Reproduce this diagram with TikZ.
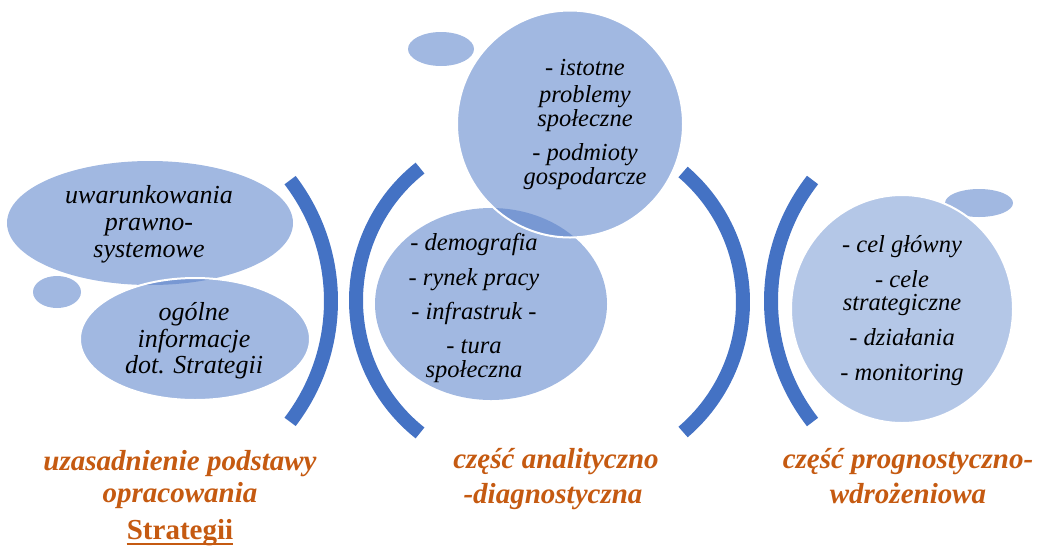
\documentclass[tikz,border=0pt]{standalone}
\usepackage{fontspec}
\setmainfont{Liberation Serif}
\usetikzlibrary{shapes.geometric}
\definecolor{blobfill}{HTML}{A1B8E1}
\definecolor{lensfill}{HTML}{7898D3}
\definecolor{lightfill}{HTML}{B4C7E7}
\definecolor{arcblue}{HTML}{4472C4}
\definecolor{labelorange}{HTML}{C55A11}
\tikzset{
  blob/.style={ellipse, fill=blobfill, inner sep=0pt, outer sep=0pt},
  blobline/.style={ellipse, draw=white, line width=2pt, inner sep=0pt, outer sep=0pt},
  bracket/.style={draw=arcblue, line width=14pt, line cap=butt},
  bodyL/.style={anchor=base, inner sep=0pt, font=\itshape\fontsize{26}{27}\selectfont},
  body/.style={anchor=base, inner sep=0pt, font=\itshape\fontsize{24.5}{26}\selectfont},
  caption/.style={anchor=base, inner sep=0pt, text=labelorange, font=\bfseries\itshape\fontsize{29}{31}\selectfont},
  captionup/.style={anchor=base, inner sep=0pt, text=labelorange, font=\bfseries\fontsize{29}{31}\selectfont},
}
\begin{document}
\begin{tikzpicture}[x=1pt,y=1pt]
\useasboundingbox (0,0) rectangle (1038,-547);

% ---------- left cluster ----------
\node[blob, minimum width=286pt, minimum height=124pt] (ellA) at (150,-223) {};
\node[blob, minimum width=48pt, minimum height=32pt] (dotL) at (57,-292) {};
\node[blob, minimum width=230pt, minimum height=122pt] (ellB) at (195,-339) {};
\begin{scope}
  \clip (150,-223) ellipse [x radius=143, y radius=62];
  \fill[lensfill] (195,-339) ellipse [x radius=115, y radius=61];
\end{scope}
\node[blobline, minimum width=230pt, minimum height=122pt] (ellBline) at (195,-339) {};

% ---------- middle cluster ----------
\node[blob, minimum width=66pt, minimum height=34pt] (dotT) at (441,-49) {};
\node[blob, minimum width=232pt, minimum height=192pt] (ellC) at (491,-304) {};
\node[blob, minimum width=226pt, minimum height=227pt] (ellD) at (570,-124) {};
\begin{scope}
  \clip (491,-304) ellipse [x radius=116, y radius=96];
  \fill[lensfill] (570,-124) ellipse [x radius=113, y radius=113.5];
\end{scope}
\node[blobline, minimum width=226pt, minimum height=227pt] (ellDline) at (570,-124) {};

% ---------- right cluster ----------
\node[blob, minimum width=68pt, minimum height=28pt] (dotR) at (979,-203) {};
\node[ellipse, fill=lightfill, draw=white, line width=2pt, inner sep=0pt,
      minimum width=222pt, minimum height=228pt] (ellE) at (902,-309) {};

% ---------- brackets ----------
\draw[bracket] (132,-301) ++(-37.4:199) arc[start angle=-37.4, end angle=37.4, radius=199];
\draw[bracket] (525,-300.5) ++(128.4:169) arc[start angle=128.4, end angle=231.6, radius=169];
\draw[bracket] (572,-302) ++(-49.5:171) arc[start angle=-49.5, end angle=49.5, radius=171];
\draw[bracket] (968,-301) ++(142.1:197) arc[start angle=142.1, end angle=217.9, radius=197];

% ---------- texts ----------
\node[bodyL] (a1) at (149,-203) {uwarunkowania};
\node[bodyL] (a2) at (149,-230) {prawno-};
\node[bodyL] (a3) at (149,-257) {systemowe};
\node[bodyL] (b1) at (194,-320) {ogólne};
\node[bodyL] (b2) at (194,-347) {informacje};
\node[bodyL] (b3) at (194,-373) {dot. Strategii};

\node[body] (d1) at (585,-75) {- istotne};
\node[body] (d2) at (585,-102) {problemy};
\node[body] (d3) at (585,-126) {społeczne};
\node[body] (d4) at (585,-160) {- podmioty};
\node[body] (d5) at (585,-184) {gospodarcze};

\node[body] (c1) at (474,-250) {- demografia};
\node[body] (c2) at (474,-285) {- rynek pracy};
\node[body] (c3) at (474,-319) {- infrastruk -};
\node[body] (c4) at (474,-353) {- tura};
\node[body] (c5) at (474,-377) {społeczna};

\node[body] (e1) at (902,-252) {- cel główny};
\node[body] (e2) at (902,-287) {- cele};
\node[body] (e3) at (902,-310) {strategiczne};
\node[body] (e4) at (902,-345) {- działania};
\node[body] (e5) at (902,-380) {- monitoring};

\node[caption] (l1) at (180,-470) {uzasadnienie podstawy};
\node[caption] (l2) at (180,-502) {opracowania};
\node[captionup] (l3) at (180,-539) {Strategii};
\draw[labelorange, line width=2pt] ([yshift=-5pt]l3.base west) -- ([yshift=-5pt]l3.base east);
\node[caption] (m1) at (556,-468) {część analityczno};
\node[caption] (m2) at (553,-503) {-diagnostyczna};
\node[caption] (r1) at (908,-468) {część prognostyczno-};
\node[caption] (r2) at (908,-503) {wdrożeniowa};
\end{tikzpicture}
\end{document}
